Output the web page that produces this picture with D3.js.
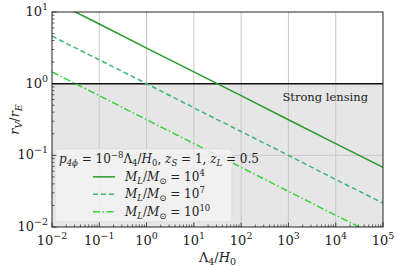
<!DOCTYPE html>
<html>
<head>
<meta charset="utf-8">
<script src="https://cdn.jsdelivr.net/npm/d3@7"></script>
<style>
body { margin: 0; background: #fff; }
svg text { font-family: "DejaVu Serif", "Liberation Serif", serif; fill: #222; }
</style>
</head>
<body>
<div id="chart"></div>
<script>
// values (log-log straight lines)
var lambdaVals = [1e-2, 1e-1, 1, 10, 100, 1e3, 1e4, 1e5];
var rM4  = [14.6, 6.8, 3.14, 1.46, 0.68, 0.314, 0.146, 0.068];
var rM7  = [4.6, 2.15, 1.0, 0.46, 0.215, 0.1, 0.046, 0.0215];
var rM10 = [1.46, 0.68, 0.314, 0.146, 0.068, 0.0314, 0.0146, 0.0068];
var xMajor = [-2, -1, 0, 1, 2, 3, 4, 5];
var yMajor = [-2, -1, 0, 1];
var seriesNames = ["4", "7", "10"];

var width = 399, height = 266;
var margin = {top: 12, right: 16, bottom: 39, left: 52};
var w = width - margin.left - margin.right;
var h = height - margin.top - margin.bottom;

var svg = d3.select("#chart").append("svg")
	.attr("width", width)
	.attr("height", height)
	.attr("font-family", "'DejaVu Serif', 'Liberation Serif', serif")
	.append("g")
	.attr("transform", "translate(" + margin.left + "," + margin.top + ")");

var x = d3.scaleLog().domain([1e-2, 1e5]).range([0, w]);
var y = d3.scaleLog().domain([1e-2, 1e1]).range([h, 0]);

svg.append("defs").append("clipPath").attr("id", "clip")
	.append("rect").attr("width", w).attr("height", h);

// strong lensing region
svg.append("rect")
	.attr("x", 0).attr("y", y(1))
	.attr("width", w).attr("height", h - y(1))
	.attr("fill", "#e6e6e6");

// grid
svg.selectAll("line.gx").data(xMajor.slice(1, -1)).enter().append("line")
	.attr("class", "gx")
	.attr("x1", function(d) { return x(Math.pow(10, d)); })
	.attr("x2", function(d) { return x(Math.pow(10, d)); })
	.attr("y1", 0).attr("y2", h)
	.attr("stroke", "#c8c8c8").attr("stroke-width", 1);
svg.selectAll("line.gy").data(yMajor.slice(1, -1)).enter().append("line")
	.attr("class", "gy")
	.attr("y1", function(d) { return y(Math.pow(10, d)); })
	.attr("y2", function(d) { return y(Math.pow(10, d)); })
	.attr("x1", 0).attr("x2", w)
	.attr("stroke", "#c8c8c8").attr("stroke-width", 1);

svg.append("line")
	.attr("x1", 0).attr("x2", w)
	.attr("y1", y(1)).attr("y2", y(1))
	.attr("stroke", "#111").attr("stroke-width", 1.5);

svg.append("text")
	.attr("x", w - 15).attr("y", y(1) + 17)
	.attr("text-anchor", "end")
	.style("font-size", "11.5px")
	.text("Strong lensing");

var series = [
	{vals: rM4, color: "#2a9a2a", dash: null},
	{vals: rM7, color: "#3cb86a", dash: "5,3"},
	{vals: rM10, color: "#3ad23a", dash: "7,2.5,1.5,2.5"}
];

var line = d3.line()
	.x(function(d) { return x(d[0]); })
	.y(function(d) { return y(d[1]); });

var lg = svg.append("g").attr("clip-path", "url(#clip)");
series.forEach(function(s) {
	lg.append("path")
		.datum(d3.zip(lambdaVals, s.vals))
		.attr("d", line)
		.attr("fill", "none")
		.attr("stroke", s.color)
		.attr("stroke-width", 1.5)
		.attr("stroke-dasharray", s.dash);
});

// legend
var leg = svg.append("g").attr("transform", "translate(3," + (y(0.1) - 6.5) + ")");
leg.append("rect")
	.attr("width", 177).attr("height", 73)
	.attr("rx", 3)
	.attr("fill", "#f2f2f2").attr("fill-opacity", 0.85)
	.attr("stroke", "#dddddd");
var title = leg.append("text").attr("x", 4).attr("y", 14).style("font-size", "12px");
title.append("tspan").style("font-style", "italic").text("p");
title.append("tspan").attr("dy", 3).style("font-size", "8.5px").style("font-style", "italic").text("4ϕ");
title.append("tspan").attr("dy", -3).text(" = 10");
title.append("tspan").attr("dy", -5).style("font-size", "8.5px").text("−8");
title.append("tspan").attr("dy", 5).text("Λ");
title.append("tspan").attr("dy", 3).style("font-size", "8.5px").text("4");
title.append("tspan").attr("dy", -3).text("/");
title.append("tspan").style("font-style", "italic").text("H");
title.append("tspan").attr("dy", 3).style("font-size", "8.5px").text("0");
title.append("tspan").attr("dy", -3).text(", ");
title.append("tspan").style("font-style", "italic").text("z");
title.append("tspan").attr("dy", 3).style("font-size", "8.5px").style("font-style", "italic").text("S");
title.append("tspan").attr("dy", -3).text(" = 1, ");
title.append("tspan").style("font-style", "italic").text("z");
title.append("tspan").attr("dy", 3).style("font-size", "8.5px").style("font-style", "italic").text("L");
title.append("tspan").attr("dy", -3).text(" = 0.5");

series.forEach(function(s, i) {
	var yy = 28 + i * 17.5;
	leg.append("line")
		.attr("x1", 38).attr("x2", 60)
		.attr("y1", yy).attr("y2", yy)
		.attr("stroke", s.color).attr("stroke-width", 1.5)
		.attr("stroke-dasharray", s.dash);
	var t = leg.append("text").attr("x", 70).attr("y", yy + 4).style("font-size", "12px");
	t.append("tspan").style("font-style", "italic").text("M");
	t.append("tspan").attr("dy", 3).style("font-size", "8.5px").style("font-style", "italic").text("L");
	t.append("tspan").attr("dy", -3).text("/");
	t.append("tspan").style("font-style", "italic").text("M");
	t.append("tspan").attr("dy", 3).style("font-size", "8.5px").text("⊙");
	t.append("tspan").attr("dy", -3).text(" = 10");
	t.append("tspan").attr("dy", -5).style("font-size", "8.5px").text(seriesNames[i]);
});

// frame
svg.append("rect")
	.attr("width", w).attr("height", h)
	.attr("fill", "none").attr("stroke", "#222").attr("stroke-width", 1);

// ticks (inward)
function isMajor(d) { return Math.abs(Math.log10(d) - Math.round(Math.log10(d))) < 1e-6; }
var xMinor = x.ticks().filter(function(d) { return !isMajor(d); });
var yMinor = y.ticks().filter(function(d) { return !isMajor(d); });

svg.selectAll("line.xt").data(xMinor).enter().append("line")
	.attr("x1", function(d) { return x(d); }).attr("x2", function(d) { return x(d); })
	.attr("y1", h).attr("y2", h - 2.5).attr("stroke", "#222").attr("stroke-width", 0.7);
svg.selectAll("line.xT").data(xMajor).enter().append("line")
	.attr("x1", function(d) { return x(Math.pow(10, d)); }).attr("x2", function(d) { return x(Math.pow(10, d)); })
	.attr("y1", h).attr("y2", h - 4.5).attr("stroke", "#222").attr("stroke-width", 0.8);
svg.selectAll("line.yt").data(yMinor).enter().append("line")
	.attr("y1", function(d) { return y(d); }).attr("y2", function(d) { return y(d); })
	.attr("x1", 0).attr("x2", 2.5).attr("stroke", "#222").attr("stroke-width", 0.7);
svg.selectAll("line.yT").data(yMajor).enter().append("line")
	.attr("y1", function(d) { return y(Math.pow(10, d)); }).attr("y2", function(d) { return y(Math.pow(10, d)); })
	.attr("x1", 0).attr("x2", 4.5).attr("stroke", "#222").attr("stroke-width", 0.8);

// tick labels
var xl = svg.selectAll("text.xl").data(xMajor).enter().append("text")
	.attr("class", "xl")
	.attr("x", function(d) { return x(Math.pow(10, d)); })
	.attr("y", h + 18)
	.attr("text-anchor", "middle")
	.style("font-size", "13px");
xl.append("tspan").text("10");
xl.append("tspan").attr("dy", -6).style("font-size", "9.5px")
	.text(function(d) { return d < 0 ? "−" + (-d) : d; });

var yl = svg.selectAll("text.yl").data(yMajor).enter().append("text")
	.attr("class", "yl")
	.attr("x", -4)
	.attr("y", function(d) { return y(Math.pow(10, d)) + 4; })
	.attr("text-anchor", "end")
	.style("font-size", "13px");
yl.append("tspan").text("10");
yl.append("tspan").attr("dy", -6).style("font-size", "9.5px")
	.text(function(d) { return d < 0 ? "−" + (-d) : d; });

// axis titles
var xt = svg.append("text")
	.attr("x", w / 2).attr("y", h + 35)
	.attr("text-anchor", "middle")
	.style("font-size", "13px");
xt.append("tspan").text("Λ");
xt.append("tspan").attr("dy", 3).style("font-size", "9.5px").text("4");
xt.append("tspan").attr("dy", -3).text("/");
xt.append("tspan").style("font-style", "italic").text("H");
xt.append("tspan").attr("dy", 3).style("font-size", "9.5px").text("0");

var yt = svg.append("text")
	.attr("transform", "translate(-33," + (h / 2) + ") rotate(-90)")
	.attr("text-anchor", "middle")
	.style("font-size", "13px");
yt.append("tspan").style("font-style", "italic").text("r");
yt.append("tspan").attr("dy", 3).style("font-size", "9.5px").style("font-style", "italic").text("V");
yt.append("tspan").attr("dy", -3).text("/");
yt.append("tspan").style("font-style", "italic").text("r");
yt.append("tspan").attr("dy", 3).style("font-size", "9.5px").style("font-style", "italic").text("E");
</script>
</body>
</html>
